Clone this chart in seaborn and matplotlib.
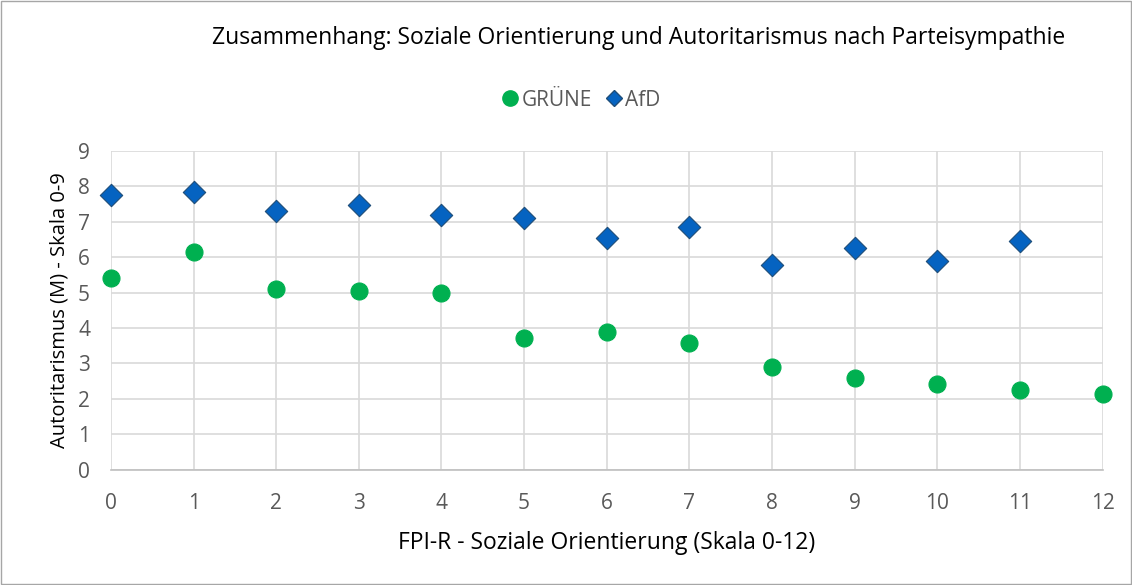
import matplotlib
matplotlib.use("Agg")
import matplotlib.pyplot as plt
import pandas as pd
import seaborn as sns

# Werte
skala = list(range(13))
gruene = [5.41, 6.16, 5.11, 5.04, 4.98, 3.73, 3.90, 3.58, 2.90, 2.60, 2.43, 2.25, 2.14]
afd = [7.77, 7.83, 7.30, 7.47, 7.20, 7.12, 6.53, 6.84, 5.77, 6.26, 5.89, 6.46, None]
parteien = ["GRÜNE", "AfD"]

df_gruene = pd.DataFrame({"x": skala, "y": gruene})
df_afd = pd.DataFrame({"x": skala, "y": afd}).dropna()

sns.set_theme(style="white")
plt.rcParams["font.family"] = ["Open Sans", "DejaVu Sans"]

fig = plt.figure(figsize=(11.32, 5.85), dpi=100)
ax = fig.add_axes([0.098, 0.197, 0.876, 0.545])

sns.scatterplot(data=df_gruene, x="x", y="y", marker="o", color="#00B050",
                edgecolor="#00B050", linewidth=0.8, s=150, ax=ax, zorder=3, clip_on=False)
sns.scatterplot(data=df_afd, x="x", y="y", marker="D", color="#0563C1",
                edgecolor="#1F4E79", linewidth=0.8, s=130, ax=ax, zorder=3, clip_on=False)

ax.set_xlim(0, 12)
ax.set_ylim(0, 9)
ax.set_xticks(skala)
ax.set_yticks(range(10))
ax.grid(True, color="#d9d9d9", linewidth=1.2)
ax.set_axisbelow(True)
for side in ["left", "top", "right"]:
    ax.spines[side].set_visible(False)
ax.spines["bottom"].set_color("#bfbfbf")
ax.spines["bottom"].set_linewidth(1.2)
ax.tick_params(axis="both", colors="#595959", labelsize=15, length=0)
ax.tick_params(axis="x", pad=17)
ax.tick_params(axis="y", pad=15)

ax.set_xlabel("FPI-R - Soziale Orientierung (Skala 0-12)", fontsize=16.5, color="black", labelpad=12)
ax.set_ylabel("Autoritarismus (M) - Skala 0-9", fontsize=14.5, color="black", labelpad=6)

fig.text(0.564, 0.935, "Zusammenhang: Soziale Orientierung und Autoritarismus nach Parteisympathie",
         ha="center", va="center", fontsize=16.5, color="black")

handles = [
    plt.Line2D([], [], marker="o", linestyle="", color="#00B050", markersize=11),
    plt.Line2D([], [], marker="D", linestyle="", color="#0563C1", markeredgecolor="#1F4E79", markersize=8),
]
fig.legend(handles, parteien, loc="center", bbox_to_anchor=(0.510, 0.829), ncol=2, frameon=False,
           fontsize=15, handletextpad=-0.2, columnspacing=0.3, handlelength=1.5,
           labelcolor="#595959")

# Rahmen um die ganze Grafik
fig.patches.append(plt.Rectangle((0.001, 0.002), 0.998, 0.996, transform=fig.transFigure,
                                 fill=False, edgecolor="#a6a6a6", linewidth=1))

fig.savefig("out.png", dpi=100)
